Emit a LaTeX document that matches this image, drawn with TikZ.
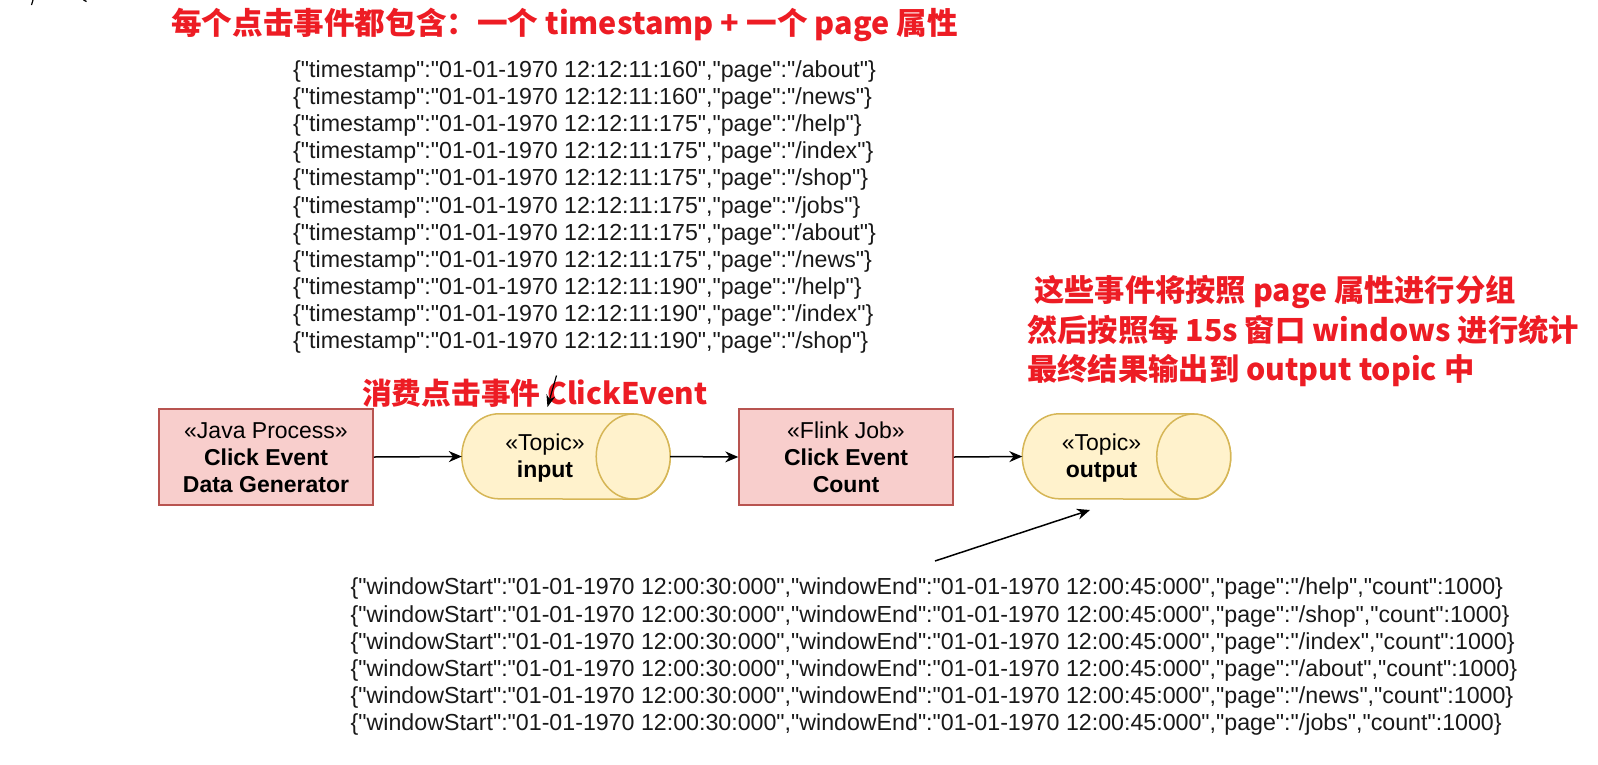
\documentclass[tikz,border=0pt]{standalone}
\usepackage{fontspec}
\setmainfont{Liberation Sans}
\newfontfamily\datafont{Liberation Sans}
\newfontfamily\cjk{Noto Sans CJK SC}
\usetikzlibrary{arrows.meta}
\definecolor{redtxt}{RGB}{237,28,36}
\definecolor{boxfill}{HTML}{F8CECC}
\definecolor{boxdraw}{HTML}{B85450}
\definecolor{cylfill}{HTML}{FFF2CC}
\definecolor{cyldraw}{HTML}{D6B656}
\tikzset{
  procbox/.style={draw=boxdraw,fill=boxfill,line width=1.5pt,minimum width=214pt,minimum height=96pt,inner sep=0pt},
  cylnode/.style={minimum width=208pt,minimum height=85pt,inner sep=0pt},
  cylshape/.style={draw=cyldraw,fill=cylfill,line width=1.5pt},
  conn/.style={line width=1.5pt,-{Stealth[length=13pt,width=11pt]}},
  redlabel/.style={text=redtxt,font=\cjk\bfseries\fontsize{30}{39.5}\selectfont,inner sep=0pt},
  datablock/.style={font=\datafont\fontsize{23.2}{27.1}\selectfont,align=left,inner sep=0pt,text=black!90},
  boxtext/.style={font=\fontsize{23}{27}\selectfont,align=center,inner sep=0pt},
}
\begin{document}
\begin{tikzpicture}[x=1pt,y=-1pt]
\useasboundingbox (0,0) rectangle (1598,764);
% cut-off fragments at top-left
\draw[line width=1.2pt] (33,0) -- (31.5,5);
\draw[line width=1.2pt] (83.5,0) -- (86.5,1.5);
% title
\node[redlabel,anchor=west,font=\cjk\bfseries\fontsize{30.6}{39.5}\selectfont] (title) at (171,24.5) {每个点击事件都包含：一个 timestamp + 一个 page 属性};
% top data
\node[datablock,anchor=west] (indata) at (293,207) {%
\{"timestamp":"01-01-1970 12:12:11:160","page":"/about"\}\\
\{"timestamp":"01-01-1970 12:12:11:160","page":"/news"\}\\
\{"timestamp":"01-01-1970 12:12:11:175","page":"/help"\}\\
\{"timestamp":"01-01-1970 12:12:11:175","page":"/index"\}\\
\{"timestamp":"01-01-1970 12:12:11:175","page":"/shop"\}\\
\{"timestamp":"01-01-1970 12:12:11:175","page":"/jobs"\}\\
\{"timestamp":"01-01-1970 12:12:11:175","page":"/about"\}\\
\{"timestamp":"01-01-1970 12:12:11:175","page":"/news"\}\\
\{"timestamp":"01-01-1970 12:12:11:190","page":"/help"\}\\
\{"timestamp":"01-01-1970 12:12:11:190","page":"/index"\}\\
\{"timestamp":"01-01-1970 12:12:11:190","page":"/shop"\}};
% right red text
\node[redlabel,anchor=west,align=left,font=\cjk\bfseries\fontsize{30.3}{39.5}\selectfont] (note) at (1027,331.5) {\ 这些事件将按照 page 属性进行分组\\然后按照每 15s 窗口 windows 进行统计\\最终结果输出到 output topic 中};
% consume label
\node[redlabel,anchor=west,font=\cjk\bfseries\fontsize{29.7}{39.5}\selectfont] (consume) at (362,393) {消费点击事件 ClickEvent};
% boxes
\node[procbox] (gen) at (266,457) {};
\node[boxtext] at (266,457.5) {«Java Process»\\\textbf{Click Event}\\\textbf{Data Generator}};
\node[procbox] (job) at (846,457) {};
\node[boxtext] at (846,457.5) {«Flink Job»\\\textbf{Click Event}\\\textbf{Count}};
% cylinders
\node[cylnode] (input) at (566,456.5) {};
\node[cylnode] (output) at (1126.5,456.5) {};
\foreach \c in {input,output}{
  \draw[cylshape] ([xshift=-37pt]\c.north east) -- ([xshift=37pt]\c.north west)
    arc[start angle=90,end angle=270,x radius=37pt,y radius=42.5pt]
    -- ([xshift=-37pt]\c.south east)
    arc[start angle=-90,end angle=90,x radius=37pt,y radius=42.5pt] -- cycle;
  \draw[cylshape] ([xshift=-37pt]\c.east) ellipse[x radius=37pt,y radius=42.5pt];
}
\node[boxtext] at (545,458) {«Topic»\\\textbf{input}};
\node[boxtext] at (1101.5,458) {«Topic»\\\textbf{output}};
% bottom data
\node[datablock,anchor=west] (outdata) at (350.5,656.7) {%
\{"windowStart":"01-01-1970 12:00:30:000","windowEnd":"01-01-1970 12:00:45:000","page":"/help","count":1000\}\\
\{"windowStart":"01-01-1970 12:00:30:000","windowEnd":"01-01-1970 12:00:45:000","page":"/shop","count":1000\}\\
\{"windowStart":"01-01-1970 12:00:30:000","windowEnd":"01-01-1970 12:00:45:000","page":"/index","count":1000\}\\
\{"windowStart":"01-01-1970 12:00:30:000","windowEnd":"01-01-1970 12:00:45:000","page":"/about","count":1000\}\\
\{"windowStart":"01-01-1970 12:00:30:000","windowEnd":"01-01-1970 12:00:45:000","page":"/news","count":1000\}\\
\{"windowStart":"01-01-1970 12:00:30:000","windowEnd":"01-01-1970 12:00:45:000","page":"/jobs","count":1000\}};
% connectors
\draw[conn] (gen.east) -- (input.west);
\draw[conn] (input.east) -- (job.west);
\draw[conn] (job.east) -- (output.west);
\coordinate (c1) at (556.5,375.5);
\coordinate (c2) at (547.5,407);
\draw[line width=1.2pt,-{Stealth[length=12pt,width=9pt]}] (c1) -- (c2);
\coordinate (o1) at (935,561);
\coordinate (o2) at (1090,510);
\draw[conn] (o1) -- (o2);
\end{tikzpicture}
\end{document}
